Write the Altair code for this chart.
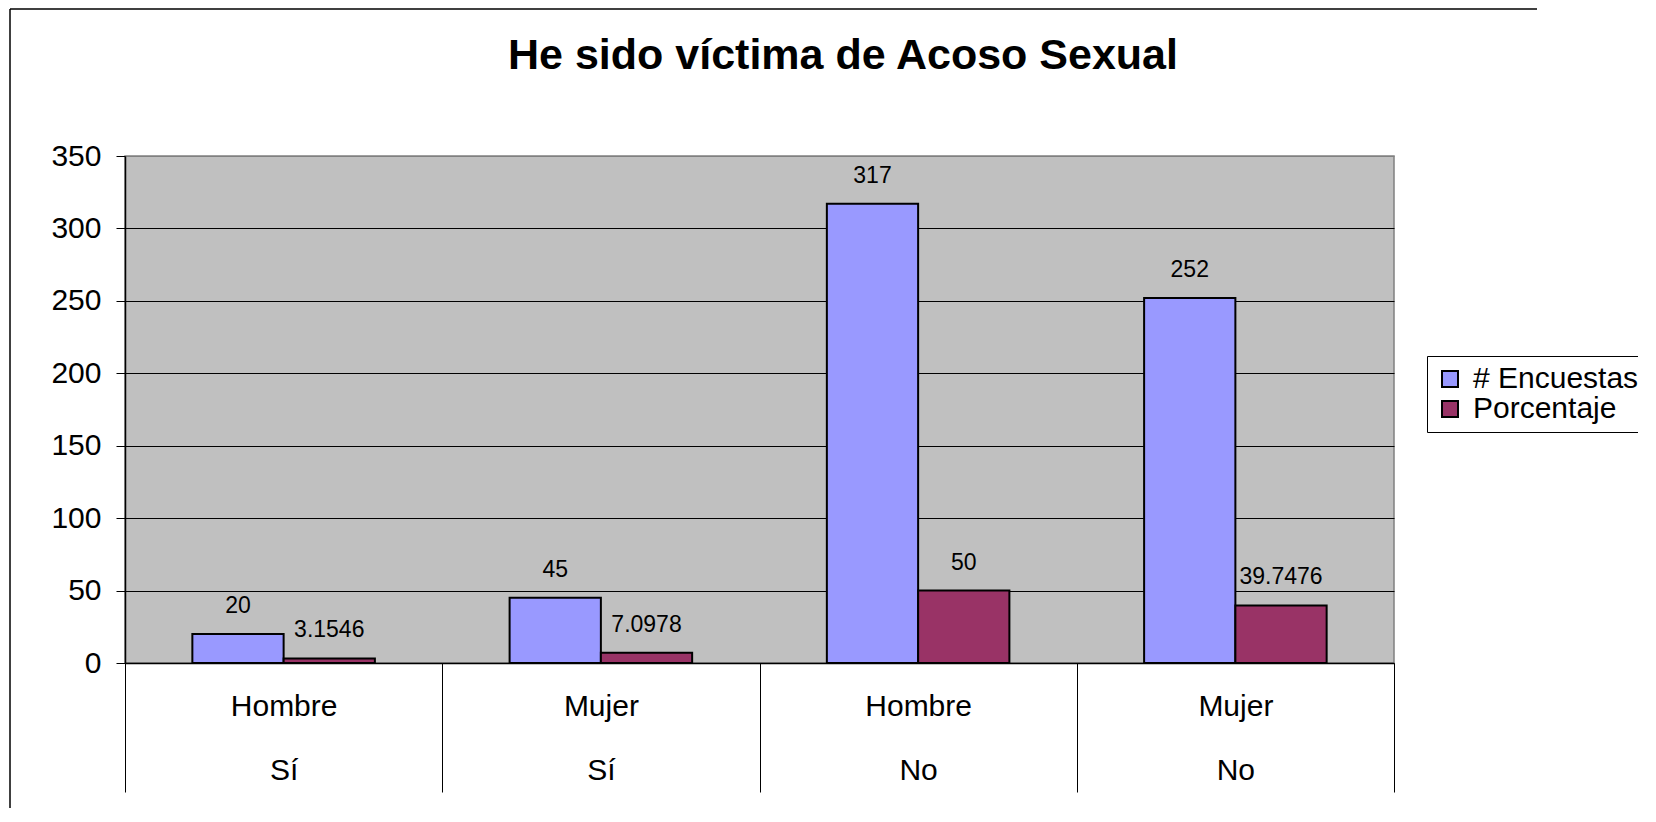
import altair as alt
import pandas as pd

# ---- data ----
categories = ["Hombre|Sí", "Mujer|Sí", "Hombre|No", "Mujer|No"]
series = ["# Encuestas", "Porcentaje"]
encuestas = [20, 45, 317, 252]
porcentaje = [3.1546, 7.0978, 50, 39.7476]
encuestas_labels = ["20", "45", "317", "252"]
porcentaje_labels = ["3.1546", "7.0978", "50", "39.7476"]
colors = ["#9999FF", "#993366"]
y_ticks = [0, 50, 100, 150, 200, 250, 300, 350]
title_text = "He sido víctima de Acoso Sexual"

rows = []
for i, c in enumerate(categories):
    rows.append({"cat": c, "serie": series[0], "valor": encuestas[i], "etiqueta": encuestas_labels[i]})
    rows.append({"cat": c, "serie": series[1], "valor": porcentaje[i], "etiqueta": porcentaje_labels[i]})
df = pd.DataFrame(rows)

FONT = "Liberation Sans"

x_enc = alt.X(
    "cat:N",
    sort=categories,
    scale=alt.Scale(paddingInner=0, paddingOuter=0),
    axis=alt.Axis(
        title=None,
        labelExpr="split(datum.label, '|')",
        labelFontSize=30,
        labelFont=FONT,
        labelColor="black",
        labelAngle=0,
        labelLineHeight=64,
        labelBaseline="top",
        labelOverlap=False,
        labelPadding=-101,
        tickBand="extent",
        tickSize=129,
        tickColor="black",
        tickWidth=1,
        domainColor="black",
        domainWidth=1.5,
    ),
)
x_off = alt.XOffset("serie:N", sort=series, scale=alt.Scale(paddingInner=0, paddingOuter=0.738))
y_enc = alt.Y(
    "valor:Q",
    scale=alt.Scale(domain=[0, 350], nice=False),
    axis=alt.Axis(
        title=None,
        values=y_ticks,
        labelFontSize=30,
        labelFont=FONT,
        labelColor="black",
        tickSize=9,
        tickColor="black",
        labelPadding=15,
        domainColor="black",
        domainWidth=1.5,
        grid=True,
        gridColor=alt.condition("datum.value === 350", alt.value("#808080"), alt.value("black")),
        gridWidth=1,
    ),
)

base = alt.Chart(df)

bars = base.mark_bar(stroke="black", strokeWidth=2).encode(
    x=x_enc,
    xOffset=x_off,
    y=y_enc,
    color=alt.Color(
        "serie:N",
        sort=series,
        scale=alt.Scale(domain=series, range=colors),
        legend=alt.Legend(
            title=None,
            orient="none",
            legendX=1302,
            legendY=200,
            padding=8,
            fillColor="white",
            strokeColor="black",
            symbolType="square",
            symbolSize=256,
            symbolStrokeColor="black",
            symbolStrokeWidth=2,
            symbolOpacity=1,
            labelFontSize=30,
            labelFont=FONT,
            labelColor="black",
            labelOffset=8,
            labelLimit=500,
            labelExpr="datum.label + '      '",
            rowPadding=0,
        ),
    ),
)

labels = base.mark_text(fontSize=23, font=FONT, dy=-21, baseline="alphabetic", color="black").encode(
    x=x_enc,
    xOffset=x_off,
    y=y_enc,
    text="etiqueta:N",
)

border_left = alt.Chart(alt.Data(values=[{}])).mark_rule(color="black", strokeWidth=1.5).encode(
    x=alt.value(-115), y=alt.value(-147), y2=alt.value(660)
)
border_top = alt.Chart(alt.Data(values=[{}])).mark_rule(color="black", strokeWidth=1.5).encode(
    x=alt.value(-115), x2=alt.value(1412), y=alt.value(-147)
)

chart = (
    alt.layer(bars, labels, border_left, border_top)
    .properties(
        width=1269,
        height=507,
        autosize=alt.AutoSizeParams(type="none"),
        padding={"left": 117, "top": 148, "right": 244, "bottom": 145},
        background="white",
        title=alt.TitleParams(
            title_text,
            fontSize=43,
            font=FONT,
            fontWeight="bold",
            anchor="middle",
            dx=83.5,
            offset=-104,
            baseline="alphabetic",
            color="black",
        ),
    )
    .configure_view(fill="#C0C0C0", stroke="#808080", strokeWidth=1.5)
)

chart.save("out.html", embed_options={"renderer": "svg", "actions": False})
